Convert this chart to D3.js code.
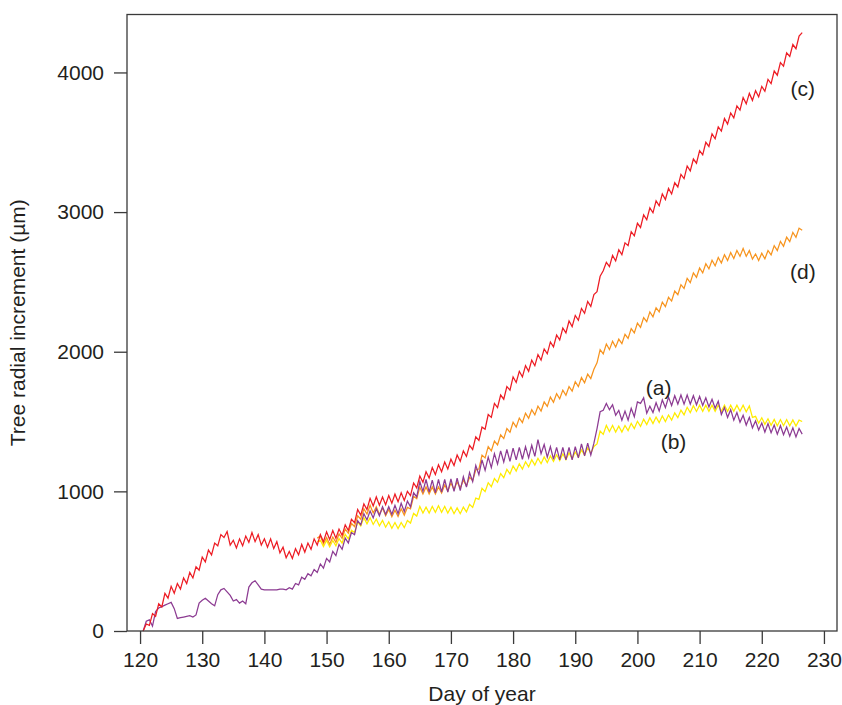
<!DOCTYPE html>
<html>
<head>
<meta charset="utf-8">
<script src="https://cdn.jsdelivr.net/npm/d3@7"></script>
<style>
  body { margin: 0; background: #fff; }
  svg text { font-family: "Liberation Sans", Arial, Helvetica, sans-serif; fill: #231f20; }
</style>
</head>
<body>
<script>
// radial increment (um), one value every half day
var step = 0.5;

var startC = 120.5;
var seriesC = [0,
  50,40, 125,105, 195,172, 270,235, 320,270, 340,300, 380,340, 420,380, 460,435, 530,495,
  580,545, 630,610, 690,670, 712,615, 650,595, 660,610, 680,635, 705,640, 690,615, 660,600,
  660,590, 640,560, 600,525, 570,520, 590,545, 620,565, 630,585, 660,615, 690,640, 710,655,
  720,665, 730,685, 760,720, 800,775, 870,830, 910,870, 950,895, 960,900, 960,905, 970,915,
  980,925, 990,935, 1000,970, 1060,1025, 1110,1065, 1140,1095, 1170,1120, 1190,1140, 1210,1160, 1230,1185,
  1260,1215, 1290,1250, 1330,1300, 1390,1365, 1460,1445, 1550,1530, 1630,1600, 1690,1660, 1750,1725, 1820,1780,
  1860,1820, 1900,1860, 1940,1900, 1980,1940, 2020,1985, 2070,2035, 2120,2085, 2170,2135, 2220,2180, 2260,2225,
  2310,2275, 2360,2325, 2410,2430, 2540,2580, 2640,2610, 2690,2650, 2730,2695, 2780,2760, 2860,2830, 2920,2890,
  2980,2945, 3030,2995, 3080,3045, 3130,3090, 3170,3130, 3210,3180, 3270,3240, 3330,3295, 3380,3350, 3440,3410,
  3500,3470, 3560,3525, 3610,3580, 3670,3630, 3710,3675, 3760,3730, 3820,3775, 3850,3800, 3870,3825, 3900,3865,
  3950,3920, 4010,3980, 4070,4045, 4140,4115, 4200,4170, 4260,4285];

var startA = 120.5;
var seriesA = [0,
  70,80, 35,140, 165,175, 185,195, 205,160, 90,95, 100,105, 110,100, 115,200, 220,235,
  215,195, 180,260, 295,305, 280,255, 215,225, 200,215, 195,315, 345,360, 330,300, 295,295,
  295,295, 295,300, 300,295, 310,300, 340,330, 385,370, 410,395, 440,420, 480,450, 520,495,
  570,540, 620,585, 665,630, 705,690, 790,760, 840,795, 860,810, 875,825, 890,835, 890,835,
  900,840, 915,855, 930,890, 990,960, 1070,1000, 1085,995, 1080,990, 1085,995, 1085,995, 1090,1000,
  1095,1005, 1105,1030, 1135,1070, 1185,1120, 1225,1150, 1245,1170, 1270,1195, 1290,1210, 1300,1215, 1310,1225,
  1315,1230, 1320,1240, 1330,1250, 1370,1270, 1335,1245, 1320,1230, 1315,1225, 1315,1225, 1315,1225, 1320,1240,
  1340,1255, 1345,1260, 1345,1450, 1570,1580, 1630,1585, 1620,1545, 1580,1510, 1575,1510, 1595,1535, 1640,1630,
  1670,1560, 1610,1565, 1635,1575, 1655,1600, 1675,1615, 1685,1625, 1690,1625, 1690,1625, 1685,1620, 1680,1615,
  1670,1605, 1660,1595, 1645,1550, 1600,1530, 1585,1510, 1565,1495, 1545,1475, 1530,1455, 1505,1440, 1490,1425,
  1485,1420, 1475,1410, 1470,1405, 1460,1395, 1455,1390, 1450,1410];

var startB = 148.5;
var seriesB = [640,
  650,605, 648,602, 648,610, 662,630, 692,660, 722,705, 782,752, 812,768, 812,763, 802,753,
  792,743, 782,735, 777,733, 777,740, 792,773, 842,823, 892,845, 887,845, 892,850, 897,850,
  892,845, 887,840, 882,840, 887,853, 907,885, 952,943, 1022,998, 1062,1033, 1092,1065, 1127,1098,
  1157,1125, 1182,1145, 1197,1160, 1212,1175, 1227,1188, 1237,1198, 1247,1206, 1254,1214, 1262,1221, 1269,1228,
  1275,1234, 1282,1245, 1297,1260, 1312,1273, 1322,1340, 1432,1408, 1472,1428, 1472,1425, 1467,1425, 1472,1435,
  1487,1450, 1502,1465, 1517,1478, 1527,1485, 1532,1492, 1540,1500, 1547,1510, 1562,1528, 1582,1548, 1602,1564,
  1614,1572, 1617,1573, 1617,1573, 1617,1573, 1617,1573, 1617,1573, 1617,1573, 1617,1573, 1617,1570, 1612,1530,
  1537,1488, 1527,1480, 1520,1473, 1515,1470, 1514,1470, 1514,1469, 1512,1467, 1510,1500];

var startD = 148.5;
var seriesD = [665,
  680,625, 670,622, 673,635, 695,663, 730,700, 770,748, 825,800, 875,838, 900,845, 890,835,
  880,825, 870,818, 865,820, 875,830, 885,875, 965,948, 1030,981, 1032,982, 1032,982, 1032,988,
  1045,1003, 1060,1014, 1068,1024, 1080,1040, 1100,1078, 1155,1160, 1260,1240, 1320,1290, 1360,1333, 1405,1378,
  1450,1423, 1495,1460, 1525,1493, 1560,1523, 1585,1548, 1610,1575, 1640,1608, 1675,1638, 1700,1663, 1725,1688,
  1750,1718, 1785,1750, 1815,1778, 1840,1808, 1875,1920, 2015,1985, 2055,2015, 2075,2033, 2090,2058, 2125,2095,
  2165,2135, 2205,2175, 2245,2215, 2285,2250, 2315,2285, 2355,2323, 2390,2363, 2435,2408, 2480,2453, 2525,2495,
  2565,2533, 2600,2565, 2630,2593, 2655,2615, 2675,2635, 2695,2653, 2710,2668, 2725,2683, 2740,2683, 2725,2663,
  2700,2653, 2705,2665, 2725,2693, 2760,2725, 2790,2755, 2820,2788, 2855,2820, 2885,2870];

var xTicks = [120, 130, 140, 150, 160, 170, 180, 190, 200, 210, 220, 230];
var yTicks = [0, 1000, 2000, 3000, 4000];

var labels = [
  {text: "(c)", day: 226.6, val: 3830},
  {text: "(d)", day: 226.6, val: 2520},
  {text: "(a)", day: 203.4, val: 1690},
  {text: "(b)", day: 205.8, val: 1300}
];

var width = 842, height = 705;
var frame = {left: 127, right: 837, top: 14.5, bottom: 631};

var svg = d3.select("body").append("svg")
    .attr("width", width)
    .attr("height", height);

var x = d3.scaleLinear()
    .domain([117.9, 232.1])
    .range([frame.left, frame.right]);

var y = d3.scaleLinear()
    .domain([0, 4415])
    .range([frame.bottom, frame.top]);

function toPoints(start, values) {
  return values.map(function (v, i) {
    return {day: start + i * step, val: v};
  });
}

var line = d3.line()
    .x(function (d) { return x(d.day); })
    .y(function (d) { return y(d.val); });

var series = [
  {pts: toPoints(startB, seriesB), color: "#ffec00"},
  {pts: toPoints(startD, seriesD), color: "#f7941e"},
  {pts: toPoints(startA, seriesA), color: "#8c3b92"},
  {pts: toPoints(startC, seriesC), color: "#ed1c24"}
];

svg.selectAll(".series")
    .data(series)
    .enter().append("path")
    .attr("class", "series")
    .attr("fill", "none")
    .attr("stroke", function (d) { return d.color; })
    .attr("stroke-width", 1.25)
    .attr("d", function (d) { return line(d.pts); });

// frame
svg.append("rect")
    .attr("x", frame.left)
    .attr("y", frame.top)
    .attr("width", frame.right - frame.left)
    .attr("height", frame.bottom - frame.top)
    .attr("fill", "none")
    .attr("stroke", "#3a3a3a")
    .attr("stroke-width", 1.3);

// x axis
var gx = svg.append("g")
    .attr("transform", "translate(0," + frame.bottom + ")")
    .call(d3.axisBottom(x).tickValues(xTicks).tickSize(13).tickPadding(8));

// y axis
var gy = svg.append("g")
    .attr("transform", "translate(" + frame.left + ",0)")
    .call(d3.axisLeft(y).tickValues(yTicks).tickFormat(d3.format("d")).tickSize(13).tickPadding(10));

[gx, gy].forEach(function (g) {
  g.select(".domain").remove();
  g.selectAll(".tick line").attr("stroke", "#3a3a3a").attr("stroke-width", 1.3);
  g.selectAll(".tick text")
      .attr("fill", "#231f20")
      .style("font-size", "21px")
      .style("font-family", "'Liberation Sans', Arial, sans-serif");
});

svg.append("text")
    .attr("x", (frame.left + frame.right) / 2)
    .attr("y", 701)
    .attr("text-anchor", "middle")
    .style("font-size", "21px")
    .text("Day of year");

svg.append("text")
    .attr("transform", "translate(25," + ((frame.top + frame.bottom) / 2) + ") rotate(-90)")
    .attr("text-anchor", "middle")
    .style("font-size", "21px")
    .text("Tree radial increment (\u00b5m)");

svg.selectAll(".lab")
    .data(labels)
    .enter().append("text")
    .attr("class", "lab")
    .attr("x", function (d) { return x(d.day); })
    .attr("y", function (d) { return y(d.val); })
    .attr("text-anchor", "middle")
    .style("font-size", "21px")
    .text(function (d) { return d.text; });
</script>
</body>
</html>
